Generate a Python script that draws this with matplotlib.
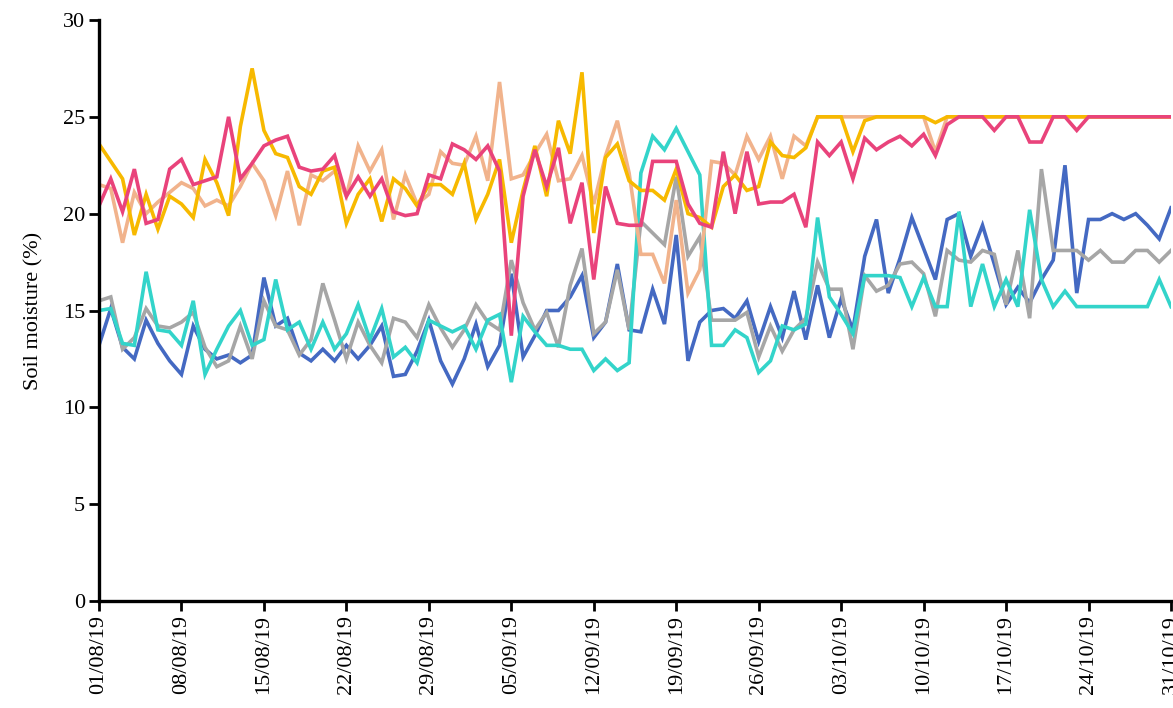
import numpy as np
import pandas as pd
import matplotlib
matplotlib.use("Agg")
import matplotlib.pyplot as plt
import matplotlib.dates as mdates

plt.rcParams['font.family'] = ['Liberation Serif', 'DejaVu Serif']

# daily soil moisture readings, 01/08/2019 - 31/10/2019
dates = pd.date_range("2019-08-01", "2019-10-31", freq="D")

blue = [13.2, 15.1, 13.1, 12.5, 14.5, 13.3, 12.4, 11.7, 14.2, 13.0,
        12.5, 12.7, 12.3, 12.7, 16.7, 14.2, 14.6, 12.8, 12.4, 13.0,
        12.4, 13.2, 12.5, 13.2, 14.2, 11.6, 11.7, 12.9, 14.5, 12.4,
        11.2, 12.5, 14.3, 12.1, 13.2, 16.9, 12.6, 13.7, 15.0, 15.0,
        15.7, 16.8, 13.6, 14.4, 17.4, 14.0, 13.9, 16.1, 14.3, 18.9,
        12.4, 14.4, 15.0, 15.1, 14.6, 15.5, 13.4, 15.2, 13.6, 16.0,
        13.5, 16.3, 13.6, 15.6, 14.0, 17.8, 19.7, 15.9, 17.7, 19.8,
        18.2, 16.6, 19.7, 20.0, 17.8, 19.4, 17.4, 15.3, 16.2, 15.4,
        16.6, 17.6, 22.5, 15.9, 19.7, 19.7, 20.0, 19.7, 20.0, 19.4,
        18.7, 20.3]

gray = [15.5, 15.7, 13.0, 13.6, 15.1, 14.2, 14.1, 14.4, 14.9, 13.1,
        12.1, 12.4, 14.2, 12.5, 15.5, 14.2, 14.0, 12.7, 13.5, 16.4,
        14.5, 12.5, 14.4, 13.2, 12.3, 14.6, 14.4, 13.6, 15.3, 14.1,
        13.1, 14.0, 15.3, 14.4, 14.0, 17.6, 15.4, 14.0, 14.9, 13.1,
        16.3, 18.2, 13.8, 14.4, 17.1, 14.0, 19.6, 19.0, 18.4, 21.9,
        17.8, 18.8, 14.5, 14.5, 14.5, 14.9, 12.6, 14.2, 12.9, 14.0,
        14.6, 17.5, 16.1, 16.1, 13.0, 16.8, 16.0, 16.3, 17.4, 17.5,
        16.9, 14.7, 18.1, 17.6, 17.5, 18.1, 17.9, 15.3, 18.1, 14.6,
        22.3, 18.1, 18.1, 18.1, 17.6, 18.1, 17.5, 17.5, 18.1, 18.1,
        17.5, 18.1]

cyan = [15.0, 15.1, 13.3, 13.2, 17.0, 14.0, 13.9, 13.2, 15.5, 11.7,
        13.0, 14.2, 15.0, 13.2, 13.5, 16.6, 14.0, 14.4, 13.0, 14.4,
        13.0, 13.8, 15.3, 13.5, 15.1, 12.6, 13.1, 12.3, 14.5, 14.2,
        13.9, 14.2, 13.0, 14.5, 14.8, 11.3, 14.7, 13.9, 13.2, 13.2,
        13.0, 13.0, 11.9, 12.5, 11.9, 12.3, 22.1, 24.0, 23.3, 24.4,
        23.2, 22.0, 13.2, 13.2, 14.0, 13.6, 11.8, 12.4, 14.2, 14.0,
        14.3, 19.8, 15.7, 14.8, 13.8, 16.8, 16.8, 16.8, 16.7, 15.2,
        16.7, 15.2, 15.2, 20.1, 15.2, 17.4, 15.2, 16.6, 15.2, 20.2,
        16.6, 15.2, 16.0, 15.2, 15.2, 15.2, 15.2, 15.2, 15.2, 15.2,
        16.6, 15.2]

salmon = [21.5, 21.3, 18.5, 21.1, 20.0, 20.6, 21.1, 21.6, 21.3, 20.4,
          20.7, 20.4, 21.4, 22.6, 21.7, 19.9, 22.2, 19.4, 22.0, 21.7,
          22.2, 20.9, 23.5, 22.2, 23.3, 19.7, 22.0, 20.5, 21.0, 23.2,
          22.6, 22.5, 24.0, 21.7, 26.8, 21.8, 22.0, 23.1, 24.1, 21.7,
          21.8, 23.0, 20.5, 23.0, 24.8, 22.1, 17.9, 17.9, 16.4, 20.7,
          15.9, 17.1, 22.7, 22.6, 22.0, 24.0, 22.8, 24.0, 21.8, 24.0,
          23.5, 25.0, 25.0, 25.0, 25.0, 25.0, 25.0, 25.0, 25.0, 25.0,
          25.0, 23.2, 25.0, 25.0, 25.0, 25.0, 25.0, 25.0, 25.0, 25.0,
          25.0, 25.0, 25.0, 25.0, 25.0, 25.0, 25.0, 25.0, 25.0, 25.0,
          25.0, 25.0]

yellow = [23.6, 22.7, 21.8, 18.9, 21.0, 19.2, 20.9, 20.5, 19.8, 22.8,
          21.6, 19.9, 24.5, 27.5, 24.3, 23.1, 22.9, 21.4, 21.0, 22.2,
          22.4, 19.5, 21.0, 21.8, 19.6, 21.8, 21.3, 20.4, 21.5, 21.5,
          21.0, 22.6, 19.7, 21.0, 22.8, 18.5, 21.2, 23.5, 20.9, 24.8,
          23.1, 27.3, 19.0, 22.9, 23.6, 21.7, 21.2, 21.2, 20.7, 22.3,
          20.0, 19.8, 19.3, 21.4, 22.0, 21.2, 21.4, 23.7, 23.0, 22.9,
          23.4, 25.0, 25.0, 25.0, 23.2, 24.8, 25.0, 25.0, 25.0, 25.0,
          25.0, 24.7, 25.0, 25.0, 25.0, 25.0, 25.0, 25.0, 25.0, 25.0,
          25.0, 25.0, 25.0, 25.0, 25.0, 25.0, 25.0, 25.0, 25.0, 25.0,
          25.0, 25.0]

pink = [20.4, 21.8, 20.1, 22.3, 19.5, 19.7, 22.3, 22.8, 21.5, 21.7,
        21.9, 25.0, 21.8, 22.6, 23.5, 23.8, 24.0, 22.4, 22.2, 22.3,
        23.0, 20.9, 21.9, 20.9, 21.8, 20.1, 19.9, 20.0, 22.0, 21.8,
        23.6, 23.3, 22.8, 23.5, 22.2, 13.7, 20.9, 23.3, 21.4, 23.4,
        19.5, 21.6, 16.6, 21.4, 19.5, 19.4, 19.4, 22.7, 22.7, 22.7,
        20.5, 19.5, 19.3, 23.2, 20.0, 23.2, 20.5, 20.6, 20.6, 21.0,
        19.3, 23.7, 23.0, 23.7, 21.8, 23.9, 23.3, 23.7, 24.0, 23.5,
        24.1, 23.0, 24.6, 25.0, 25.0, 25.0, 24.3, 25.0, 25.0, 23.7,
        23.7, 25.0, 25.0, 24.3, 25.0, 25.0, 25.0, 25.0, 25.0, 25.0,
        25.0, 25.0]

series = [
    (blue, "#4469C2"),
    (gray, "#A6A6A6"),
    (cyan, "#33D4CA"),
    (salmon, "#F1B38C"),
    (yellow, "#F7B900"),
    (pink, "#E9437B"),
]

fig = plt.figure(figsize=(11.73, 7.08), dpi=100)
ax = fig.add_axes([99 / 1173, 107 / 708, 1072 / 1173, 581 / 708])

for values, color in series:
    ax.plot(dates, values, color=color, linewidth=2.6, solid_joinstyle="miter")

ax.set_xlim(dates[0], dates[-1])
ax.set_ylim(0, 30)
ax.set_yticks(np.arange(0, 31, 5))
ax.set_xticks(dates[::7])
ax.xaxis.set_major_formatter(mdates.DateFormatter("%d/%m/%y"))
plt.setp(ax.get_xticklabels(), rotation=90, ha="center", va="top")

ax.set_ylabel("Soil moisture (%)", fontsize=16, labelpad=14)
ax.tick_params(axis="both", direction="out", length=7, width=2, labelsize=16, pad=3)
ax.spines["top"].set_visible(False)
ax.spines["right"].set_visible(False)
ax.spines["left"].set_linewidth(2.4)
ax.spines["bottom"].set_linewidth(2.4)

fig.savefig("out.png", dpi=100)
plt.close(fig)
